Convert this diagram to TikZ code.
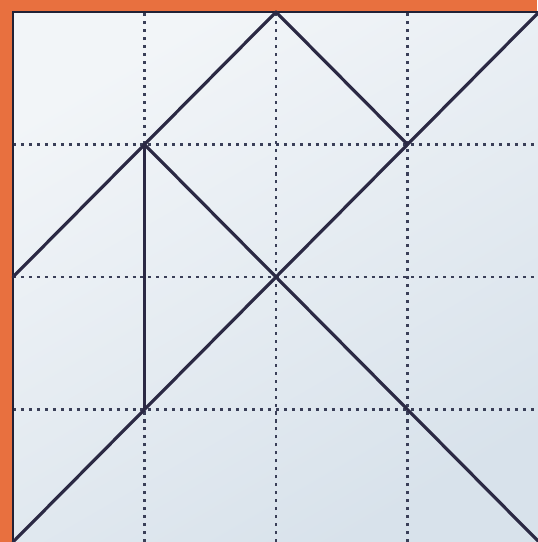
\documentclass[tikz,border=0pt]{standalone}
\usetikzlibrary{calc}
\definecolor{frameorange}{HTML}{E8703F}
\definecolor{paperlight}{HTML}{F2F5F8}
\definecolor{paperblue}{HTML}{D8E2EB}
\definecolor{inkline}{HTML}{2B2944}
\definecolor{gridink}{HTML}{3A3F58}
\begin{document}
\begin{tikzpicture}[x=0.03cm,y=-0.03cm,
  piece/.style={draw=inkline,line width=2.7pt,line cap=round,line join=round},
  gridline/.style={draw=gridink,line width=2pt,dash pattern=on 2.6pt off 4.2pt},
  frameline/.style={draw=inkline!80!black,line width=2pt}]
\useasboundingbox (0,0) rectangle (537,542);
% orange surround
\fill[frameorange] (0,0) rectangle (537,542);
% paper
\shade[top color=paperlight,bottom color=paperblue,shading angle=30] (13,12) rectangle (541,544);
% grid points
\foreach \i in {0,...,4}{
  \foreach \j in {0,...,4}{
    \coordinate (p\i\j) at ({13+131.5*\i},{542-132.5*\j});
  }
}
% dashed grid
\foreach \i in {1,2,3}{
  \draw[gridline] (p\i0) -- (p\i4);
  \draw[gridline] (p0\i) -- (p4\i);
}
% frame
\draw[frameline] (p00) -- (p04) -- (p44);
% tangram lines
\draw[piece] (p00) -- (p11) -- (p22) -- (p44);
\draw[piece] (p02) -- (p13) -- (p24) -- (p33);
\draw[piece] (p13) -- (p22) -- (p31) -- (p40);
\draw[piece] (p13) -- (p11);
\end{tikzpicture}
\end{document}
